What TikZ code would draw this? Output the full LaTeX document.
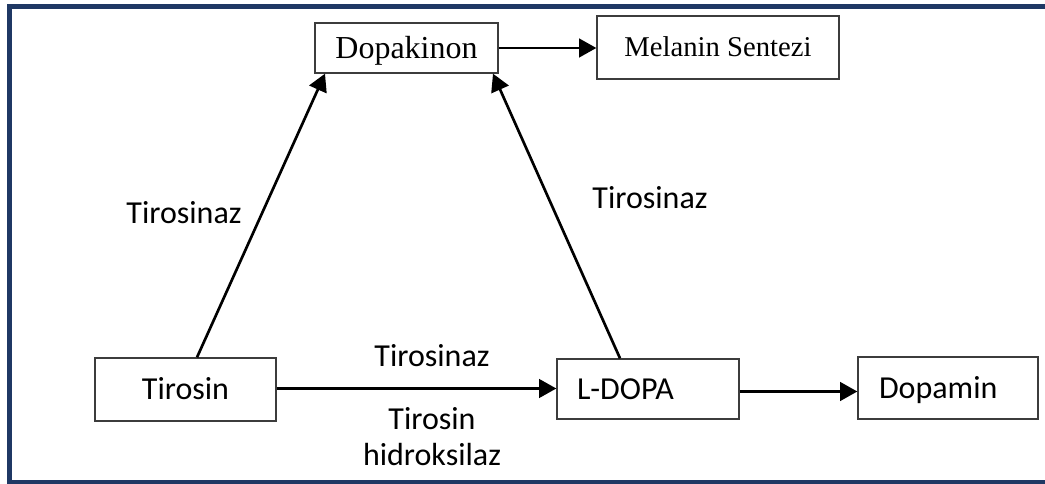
\documentclass[tikz,border=0pt]{standalone}
\usepackage{fontspec}
\setmainfont{Carlito}
\newfontfamily\serifrm{Liberation Serif}
\usetikzlibrary{arrows.meta,calc}
\definecolor{framecol}{RGB}{31,56,100}
\definecolor{boxcol}{RGB}{60,60,60}
\begin{document}
\begin{tikzpicture}[x=0.75pt,y=-0.75pt,
  box/.style={draw=boxcol,line width=1pt,fill=white,inner sep=0pt,
    text height=15.5pt,text depth=0pt,font=\fontsize{24}{28}\selectfont},
  serifbox/.style={box,font=\serifrm\fontsize{24}{28}\selectfont,text height=15.9pt},
  arr/.style={line width=2pt,-{Triangle[length=13pt,width=14pt]}},
  lbl/.style={font=\fontsize{24}{28}\selectfont,inner sep=0pt,text height=15.5pt,text depth=0pt}]
\useasboundingbox (0,0) rectangle (1045,484);
\draw[framecol,line width=3.75pt] (1046,6.5) -- (9.5,6.5) -- (9.5,482) -- (1046,482);

\node[serifbox,minimum width=183*0.75pt,minimum height=50*0.75pt] (dopak) at (406.5,48) {Dopakinon};
\node[serifbox,font=\serifrm\fontsize{21.5}{26}\selectfont,text height=14.2pt,
  minimum width=242*0.75pt,minimum height=63*0.75pt] (melanin) at (718,47.5) {Melanin Sentezi};
\node[box,minimum width=181*0.75pt,minimum height=63*0.75pt] (tirosin) at (185.5,389.5) {Tirosin};
\node[box,minimum width=182*0.75pt,minimum height=60*0.75pt,text width=142*0.75pt,align=left] (ldopa) at (648,389) {L-DOPA};
\node[box,minimum width=180*0.75pt,minimum height=62*0.75pt,text width=138*0.75pt,align=left] (dopamin) at (948,388) {Dopamin};

\draw[arr] ($(tirosin.north)+(11.5,0)$) -- ($(dopak.south)+(-81.5,0)$);
\draw[arr] ($(ldopa.north)+(-28,0)$) -- ($(dopak.south)+(86.5,0)$);
\draw[arr] (dopak.east) -- (dopak.east -| melanin.west);
\draw[arr] ($(tirosin.east)+(0,-1)$) -- ($(tirosin.east -| ldopa.west)+(0,-1)$);
\draw[arr] ($(ldopa.east)+(0,2.5)$) -- ($(ldopa.east -| dopamin.west)+(0,2.5)$);

\node[lbl] (t1) at (184,213) {Tirosinaz};
\node[lbl] (t2) at (650,198.5) {Tirosinaz};
\node[lbl] (t3) at (432,356) {Tirosinaz};
\node[lbl] (t4) at (432,419) {Tirosin};
\node[lbl] (t5) at (432,455) {hidroksilaz};
\end{tikzpicture}
\end{document}
